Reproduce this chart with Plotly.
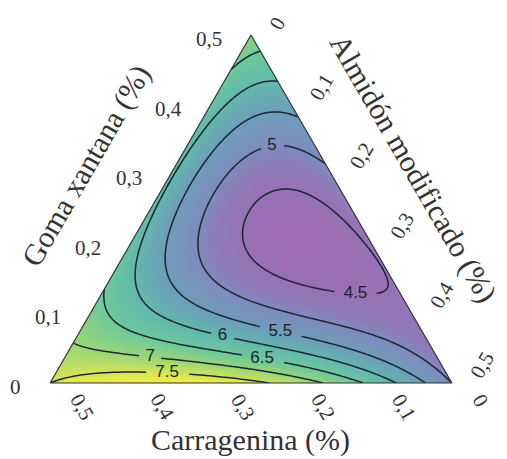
import numpy as np
import plotly.graph_objects as go

# ---------------- data ----------------
mixture_total = 0.5
# fitted Scheffe special-cubic mixture model (pseudo-components: Goma, Carragenina, Almidon)
vertex_values = [6.8, 7.5, 5.0]          # b1 (Goma), b2 (Carragenina), b3 (Almidon)
binary_coefs = [-4.12, -4.86, 5.5]       # b12 (G*C), b13 (G*A), b23 (C*A)
ternary_coef = -40.0                     # b123
contour_levels = [4.5, 5.0, 5.5, 6.0, 6.5, 7.0, 7.5]
contour_label_text = ["4.5", "5", "5.5", "6", "6.5", "7", "7.5"]
tick_values = [0.0, 0.1, 0.2, 0.3, 0.4, 0.5]
tick_text = ["0", "0,1", "0,2", "0,3", "0,4", "0,5"]
axis_titles = ["Goma xantana (%)", "Carragenina (%)", "Almidón modificado (%)"]

# ---------------- style ----------------
W, H = 507, 459
V_LEFT, V_RIGHT, V_TOP = (50.0, 383.0), (452.0, 383.0), (251.0, 35.0)   # triangle in px
label_hints = [(0.24, 0.12, 0.64), (0.675, 0.11, 0.215), (0.152, 0.352, 0.496),
               (0.132, 0.506, 0.362), (0.075, 0.435, 0.49), (0.075, 0.714, 0.211),
               (0.017, 0.698, 0.285)]
side_px = V_RIGHT[0] - V_LEFT[0]
colorscale = [[0.0, "rgb(157,108,178)"], [0.125, "rgb(143,123,185)"],
              [0.194, "rgb(126,140,189)"], [0.333, "rgb(110,158,186)"],
              [0.472, "rgb(98,184,172)"], [0.611, "rgb(110,201,155)"],
              [0.75, "rgb(155,214,118)"], [0.889, "rgb(217,229,85)"],
              [1.0, "rgb(246,235,66)"]]
zmin, zmax = 4.3, 7.9
TICK_FONT = dict(family="Liberation Serif", size=21, color="#333")
TITLE_FONT = dict(family="Liberation Serif", size=30, color="#333")


def response(g, c, a):
    b1, b2, b3 = vertex_values
    b12, b13, b23 = binary_coefs
    return (b1 * g + b2 * c + b3 * a + b12 * g * c + b13 * g * a + b23 * c * a
            + ternary_coef * g * c * a)


def lattice(n):
    ii, jj = [], []
    for i in range(n + 1):
        for j in range(n + 1 - i):
            ii.append(i)
            jj.append(j)
    ii = np.array(ii)
    jj = np.array(jj)
    g = ii / n
    a = jj / n
    c = np.clip(1 - g - a, 0, 1)
    return ii, jj, g, c, a


# ---------- background gradient ----------
nb = 115
_, _, gb, cb, ab = lattice(nb)
zb = response(gb, cb, ab)

fig = go.Figure()
fig.add_trace(go.Scatterternary(
    a=gb * mixture_total, b=cb * mixture_total, c=ab * mixture_total,
    mode="markers",
    marker=dict(symbol="square", size=5.5, color=zb, colorscale=colorscale,
                cmin=zmin, cmax=zmax, line=dict(width=0)),
    hoverinfo="skip", showlegend=False, cliponaxis=True))

# ---------- contour lines (marching triangles) ----------
n = 170
ii, jj, g, c, a = lattice(n)
index = {}
for k, (i, j) in enumerate(zip(ii, jj)):
    index[(i, j)] = k
z = response(g, c, a)
tris = []
for i in range(n):
    for j in range(n - i):
        tris.append((index[(i, j)], index[(i + 1, j)], index[(i, j + 1)]))
        if i + j <= n - 2:
            tris.append((index[(i + 1, j)], index[(i, j + 1)], index[(i + 1, j + 1)]))
tris = np.array(tris)


def to_xy(gg, aa):
    return (aa + gg / 2) * side_px, gg * side_px * np.sqrt(3) / 2


def contour_paths(level):
    zz = z + 1e-9
    s = zz[tris] > level
    mixed = np.where(s.any(axis=1) & ~s.all(axis=1))[0]
    seg_keys = []
    pts = {}
    for t in mixed:
        keys = []
        for p, q in ((0, 1), (1, 2), (2, 0)):
            if s[t, p] != s[t, q]:
                vi, vj = tris[t, p], tris[t, q]
                key = (min(vi, vj), max(vi, vj))
                if key not in pts:
                    f = (level - zz[vi]) / (zz[vj] - zz[vi])
                    pts[key] = (g[vi] + f * (g[vj] - g[vi]), a[vi] + f * (a[vj] - a[vi]))
                keys.append(key)
        if len(keys) == 2:
            seg_keys.append(tuple(keys))
    adj = {}
    for si, (k1, k2) in enumerate(seg_keys):
        adj.setdefault(k1, []).append(si)
        adj.setdefault(k2, []).append(si)
    used = np.zeros(len(seg_keys), bool)
    paths = []
    for si in range(len(seg_keys)):
        if used[si]:
            continue
        used[si] = True
        k1, k2 = seg_keys[si]
        chain = [k1, k2]
        for direction in (0, 1):
            while True:
                end = chain[-1]
                nxt = None
                for sj in adj[end]:
                    if not used[sj]:
                        nxt = sj
                        break
                if nxt is None:
                    break
                used[nxt] = True
                e1, e2 = seg_keys[nxt]
                chain.append(e2 if e1 == end else e1)
            chain.reverse()
        paths.append([pts[k] for k in chain])
    return paths


label_a, label_b, label_c, label_t = [], [], [], []
for lev, txt, hint in zip(contour_levels, contour_label_text, label_hints):
    paths = contour_paths(lev)
    hx, hy = to_xy(hint[0], hint[2])
    best = None
    for p in paths:
        arr = np.array(p)
        px, py = to_xy(arr[:, 0], arr[:, 1])
        d = np.hypot(px - hx, py - hy)
        k = int(np.argmin(d))
        if best is None or d[k] < best[0]:
            best = (d[k], arr[k, 0], arr[k, 1], px[k], py[k])
    _, lg, la, lx, ly = best
    gap = 6 + 5.0 * len(txt)
    A, B, C = [], [], []
    for p in paths:
        arr = np.array(p)
        px, py = to_xy(arr[:, 0], arr[:, 1])
        keep = np.hypot((px - lx) * 1.0, (py - ly) * 1.7) > gap
        for k in range(len(arr)):
            if keep[k]:
                gg, aa = arr[k]
                A.append(gg * mixture_total)
                C.append(aa * mixture_total)
                B.append(max(0.0, 1 - gg - aa) * mixture_total)
            else:
                if A and A[-1] is not None:
                    A.append(None); B.append(None); C.append(None)
        A.append(None); B.append(None); C.append(None)
    fig.add_trace(go.Scatterternary(a=A, b=B, c=C, mode="lines",
                                    line=dict(color="#1c2630", width=1.5),
                                    hoverinfo="skip", showlegend=False))
    label_a.append(lg * mixture_total)
    label_c.append(la * mixture_total)
    label_b.append(max(0.0, 1 - lg - la) * mixture_total)
    label_t.append(txt)

fig.add_trace(go.Scatterternary(a=label_a, b=label_b, c=label_c, mode="text",
                                text=label_t,
                                textfont=dict(family="Liberation Sans", size=17, color="#1e1e1e"),
                                hoverinfo="skip", showlegend=False, cliponaxis=False))


# ---------- tick labels & titles (annotations placed from ternary geometry) ----------
def tern_px(av, bv, cv):
    fa, fb, fc = av / mixture_total, bv / mixture_total, cv / mixture_total
    x = fa * V_TOP[0] + fb * V_LEFT[0] + fc * V_RIGHT[0]
    y = fa * V_TOP[1] + fb * V_LEFT[1] + fc * V_RIGHT[1]
    return x, y


def paper(x, y):
    return x / W, 1 - y / H


annotations = []
char_w = 0.42 * TICK_FONT["size"]
for v, t in zip(tick_values, tick_text):
    L = char_w * len(t.replace(",", "")) + 0.25 * TICK_FONT["size"] * t.count(",")
    # a-axis (left side, horizontal)
    x, y = tern_px(v, mixture_total - v, 0)
    px_, py_ = paper(x - 27, y + 4)
    annotations.append(dict(text=t, x=px_, y=py_, xanchor="right", yanchor="middle",
                            showarrow=False, font=TICK_FONT))
    # b-axis (bottom, rotated +60)
    x, y = tern_px(0, v, mixture_total - v)
    cx = x + 26.5 + L / 2 * 0.5
    cy = y + 14 + L / 2 * 0.866
    px_, py_ = paper(cx, cy)
    annotations.append(dict(text=t, x=px_, y=py_, xanchor="center", yanchor="middle",
                            textangle=60, showarrow=False, font=TICK_FONT))
    # c-axis (right side, rotated -60)
    x, y = tern_px(mixture_total - v, 0, v)
    cx = x + 24.5 + L / 2 * 0.5
    cy = y - 8 - L / 2 * 0.866
    px_, py_ = paper(cx, cy)
    annotations.append(dict(text=t, x=px_, y=py_, xanchor="center", yanchor="middle",
                            textangle=-60, showarrow=False, font=TICK_FONT))

for txt, (tx, ty), ang in zip(axis_titles, [(86, 166), (250, 440), (413, 168)], [-60, 0, 60]):
    px_, py_ = paper(tx, ty)
    annotations.append(dict(text=txt, x=px_, y=py_, xanchor="center", yanchor="middle",
                            textangle=ang, showarrow=False, font=TITLE_FONT))

axis_common = dict(showticklabels=False, ticks="", showgrid=False, showline=True,
                   linecolor="#333", linewidth=1.2, title=dict(text=""))

fig.update_layout(
    width=W, height=H, margin=dict(l=0, r=0, t=0, b=0),
    paper_bgcolor="white", plot_bgcolor="white",
    ternary=dict(sum=mixture_total, bgcolor="white",
                 domain=dict(x=[V_LEFT[0] / W, V_RIGHT[0] / W],
                             y=[(H - V_LEFT[1]) / H, (H - V_TOP[1]) / H]),
                 aaxis=axis_common, baxis=axis_common, caxis=axis_common),
    annotations=annotations,
)

fig.write_html("out.html", config={"displayModeBar": False},
               post_script="document.body.style.margin='0';document.body.style.overflow='hidden';")
